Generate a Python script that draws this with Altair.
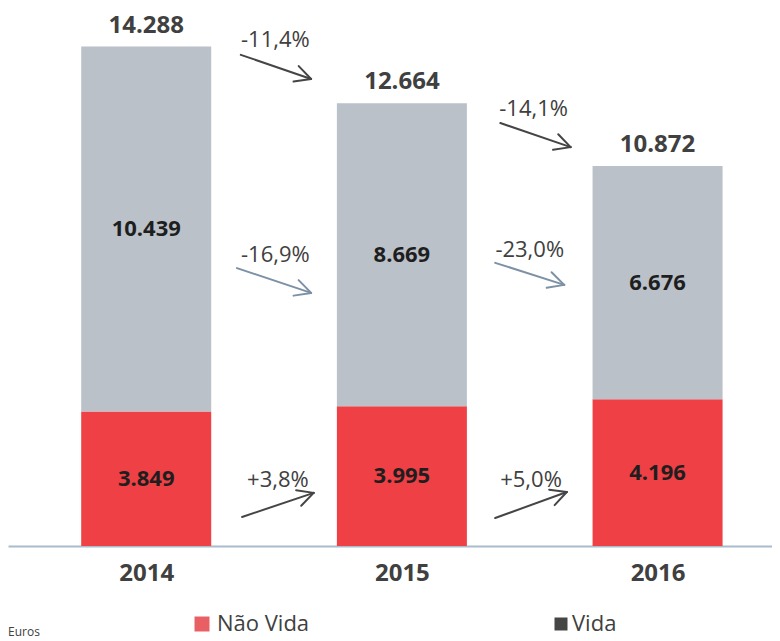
import math
import json
import altair as alt
import pandas as pd

# ---------------- data ----------------
years = ["2014", "2015", "2016"]
nao_vida = [3849, 3995, 4196]
vida = [10439, 8669, 6676]
change_labels = ["-11,4%", "-14,1%", "-16,9%", "-23,0%", "+3,8%", "+5,0%"]
legend_labels = ["Não Vida", "Vida"]
unit_label = "Euros"

# ---------------- layout / style ----------------
PLOT_W = 764
PLOT_H = 538
TOTAL_H = 633
X_DOMAIN = [-0.521, 2.428]
Y_MAX = 15390
kx = PLOT_W / (X_DOMAIN[1] - X_DOMAIN[0])
ky = PLOT_H / Y_MAX

RED = "#ee4045"
GRAY = "#bac1c9"
TEXT = "#404040"
DARK = "#1e1e1e"
FONT = "Open Sans"

# annotation anchors (data units): arrows start/end and change-label centres
arrow_x1 = [0.37, 1.385, 0.355, 1.365, 0.375, 1.365]
arrow_y1 = [14050, 12100, 7950, 8100, 830, 800]
arrow_x2 = [0.645, 1.66, 0.645, 1.635, 0.655, 1.645]
arrow_y2 = [13360, 11410, 7240, 7470, 1520, 1545]
arrow_col = ["#454545", "#454545", "#7d91a5", "#7d91a5", "#454545", "#454545"]
label_x = [0.505, 1.515, 0.505, 1.50, 0.515, 1.505]
label_y = [14470, 12500, 8320, 8470, 1890, 1890]


def fmt(v):
    return f"{v:,}".replace(",", ".")


rows = []
for i, yr in enumerate(years):
    rows.append(dict(idx=i, cat=legend_labels[0], ord=0, value=nao_vida[i],
                     mid=nao_vida[i] / 2, label=fmt(nao_vida[i])))
    rows.append(dict(idx=i, cat=legend_labels[1], ord=1, value=vida[i],
                     mid=nao_vida[i] + vida[i] / 2, label=fmt(vida[i])))
df = pd.DataFrame(rows)

totals = [a + b for a, b in zip(nao_vida, vida)]
tot = pd.DataFrame(dict(idx=list(range(len(years))), total=totals,
                        label=[fmt(t) for t in totals]))

# arrows: shafts + chevron heads
seg = []
for x1, y1, x2, y2, c in zip(arrow_x1, arrow_y1, arrow_x2, arrow_y2, arrow_col):
    seg.append(dict(x=x1, y=y1, x2=x2, y2=y2, c=c))
    dxp = (x2 - x1) * kx
    dyp = -(y2 - y1) * ky
    n = math.hypot(dxp, dyp)
    ux, uy = dxp / n, dyp / n
    L = 18
    for s in (1, -1):
        a = math.radians(27 * s)
        bx = -(ux * math.cos(a) - uy * math.sin(a))
        by = -(ux * math.sin(a) + uy * math.cos(a))
        seg.append(dict(x=x2, y=y2, x2=x2 + L * bx / kx, y2=y2 - L * by / ky, c=c))
arrows = pd.DataFrame(seg)

chg = pd.DataFrame(dict(x=label_x, y=label_y, t=change_labels))

xscale = alt.Scale(domain=X_DOMAIN, nice=False, zero=False)
yscale = alt.Scale(domain=[0, Y_MAX], nice=False, zero=True)

label_expr = f"{json.dumps(years)}[datum.value]"

x_axis = alt.Axis(values=list(range(len(years))), labelExpr=label_expr, title=None,
                  grid=False, ticks=False, tickSize=0, labelPadding=15,
                  labelFont=FONT, labelFontWeight="bold", labelFontSize=24,
                  labelColor=TEXT, domainColor="#a9bccb", domainWidth=2)

bars = alt.Chart(df).mark_bar(size=130).encode(
    x=alt.X("idx:Q", scale=xscale, axis=x_axis),
    y=alt.Y("value:Q", stack="zero", scale=yscale, axis=None),
    color=alt.Color("cat:N", scale=alt.Scale(domain=legend_labels, range=[RED, GRAY]), legend=None),
    order=alt.Order("ord:Q"),
)

seg_text = alt.Chart(df).mark_text(font=FONT, fontWeight="bold", fontSize=22,
                                   color=DARK, baseline="middle").encode(
    x=alt.X("idx:Q", scale=xscale),
    y=alt.Y("mid:Q", scale=yscale),
    text="label:N",
)

tot_text = alt.Chart(tot).mark_text(font=FONT, fontWeight="bold", fontSize=24,
                                    color=TEXT, baseline="middle", dy=-21).encode(
    x=alt.X("idx:Q", scale=xscale),
    y=alt.Y("total:Q", scale=yscale),
    text="label:N",
)

arrow_rules = alt.Chart(arrows).mark_rule(strokeWidth=2, strokeCap="round").encode(
    x=alt.X("x:Q", scale=xscale),
    y=alt.Y("y:Q", scale=yscale),
    x2="x2:Q",
    y2="y2:Q",
    color=alt.Color("c:N", scale=None),
)

chg_text = alt.Chart(chg).mark_text(font=FONT, fontSize=22, color=TEXT,
                                    baseline="middle").encode(
    x=alt.X("x:Q", scale=xscale),
    y=alt.Y("y:Q", scale=yscale),
    text="t:N",
)

LEG_Y = 616
leg1_sq = alt.Chart(pd.DataFrame({"t": [legend_labels[0]]})).mark_square(
    size=225, color="#e96064", opacity=1).encode(x=alt.value(194), y=alt.value(LEG_Y))
leg1_tx = alt.Chart(pd.DataFrame({"t": [legend_labels[0]]})).mark_text(
    font=FONT, fontSize=22, color=TEXT, align="left", baseline="middle").encode(
    x=alt.value(209), y=alt.value(LEG_Y), text="t:N")
leg2_sq = alt.Chart(pd.DataFrame({"t": [legend_labels[1]]})).mark_square(
    size=169, color="#454545", opacity=1).encode(x=alt.value(553), y=alt.value(LEG_Y))
leg2_tx = alt.Chart(pd.DataFrame({"t": [legend_labels[1]]})).mark_text(
    font=FONT, fontSize=22, color=TEXT, align="left", baseline="middle").encode(
    x=alt.value(564), y=alt.value(LEG_Y), text="t:N")
unit_tx = alt.Chart(pd.DataFrame({"t": [unit_label]})).mark_text(
    font=FONT, fontSize=12, color=TEXT, align="left", baseline="alphabetic").encode(
    x=alt.value(0), y=alt.value(TOTAL_H - 5), text="t:N")

chart = alt.layer(
    bars, seg_text, tot_text, arrow_rules, chg_text,
    leg1_sq, leg1_tx, leg2_sq, leg2_tx, unit_tx,
).properties(
    width=PLOT_W, height=PLOT_H,
    autosize=alt.AutoSizeParams(type="none"),
    padding={"left": 0, "top": 0, "right": 0, "bottom": TOTAL_H - PLOT_H},
    background="white",
).configure_view(stroke=None)

chart.save("out.html", embed_options={"renderer": "svg", "actions": False})
